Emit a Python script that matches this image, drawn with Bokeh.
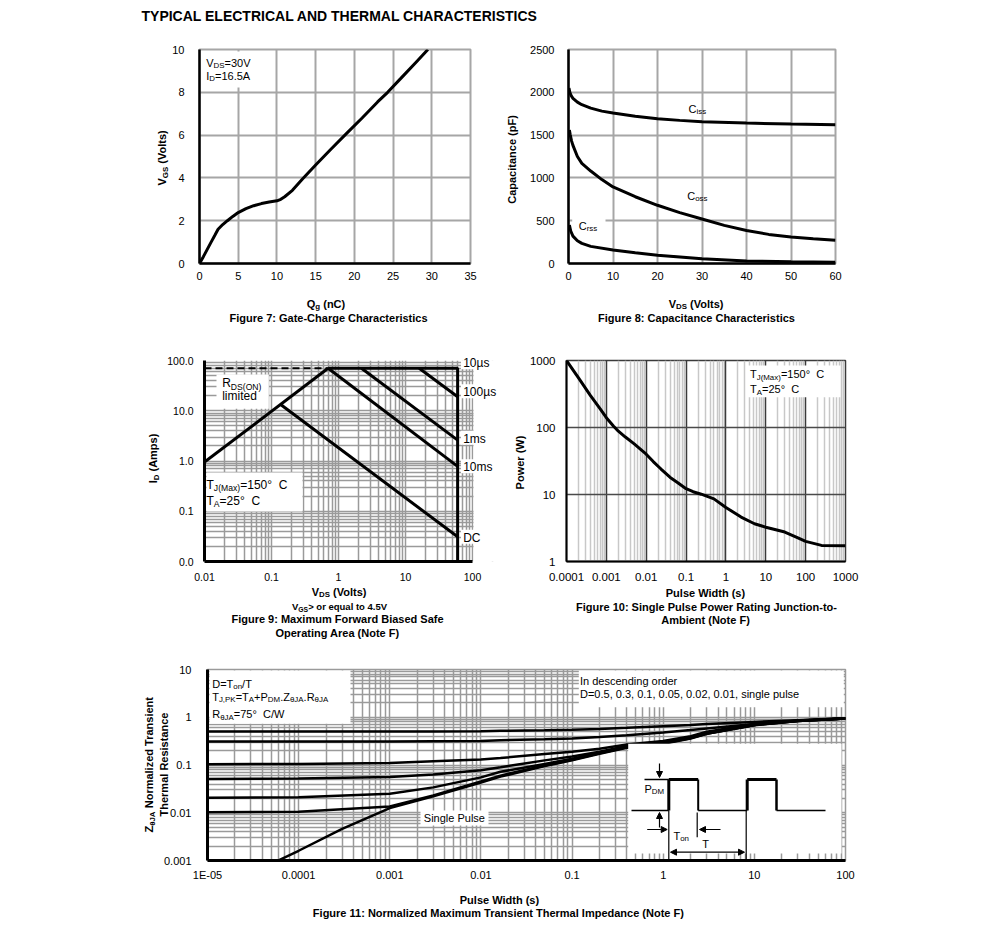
import math
from bokeh.plotting import figure
from bokeh.models import (BoxAnnotation, Arrow, NormalHead, FixedTicker, Range1d, GridBox)
from bokeh.layouts import column, row
from bokeh.core.properties import value
from bokeh.embed import file_html
from bokeh.resources import INLINE

FONT = "Liberation Sans"

# ---------------- data ----------------
# Figure 7: gate charge
qg_nc = [0, 0.5, 1, 1.5, 2, 2.4, 3, 3.6, 4.3, 5, 6, 7, 8, 9, 10, 10.5, 11, 12, 13.3, 15, 17, 19, 21, 23, 24.3, 26, 28, 29.5]
vgs_v = [0, 0.32, 0.66, 1.0, 1.33, 1.6, 1.82, 2.0, 2.2, 2.38, 2.56, 2.7, 2.8, 2.87, 2.93, 3.0, 3.12, 3.42, 3.95, 4.6, 5.35, 6.08, 6.8, 7.55, 8.0, 8.65, 9.42, 10.0]
fig7_xticks = [0, 5, 10, 15, 20, 25, 30, 35]
fig7_yticks = [0, 2, 4, 6, 8, 10]

# Figure 8: capacitance
ciss_vds = [0.1, 0.3, 0.6, 1, 2, 3, 5, 7.5, 10, 15, 20, 25, 30, 40, 50, 60]
ciss_pf = [2050, 2000, 1960, 1930, 1885, 1855, 1815, 1780, 1757, 1720, 1692, 1672, 1656, 1640, 1630, 1622]
coss_vds = [0.2, 0.4, 0.7, 1, 2, 3, 5, 7.5, 10, 15, 20, 25, 30, 35, 40, 45, 50, 55, 60]
coss_pf = [1560, 1500, 1430, 1380, 1250, 1170, 1080, 980, 895, 780, 680, 595, 520, 445, 385, 340, 310, 290, 272]
crss_vds = [0.2, 0.5, 1, 2, 3, 5, 10, 15, 20, 30, 40, 50, 60]
crss_pf = [450, 380, 320, 265, 235, 200, 158, 125, 97, 55, 30, 20, 15]
fig8_xticks = [0, 10, 20, 30, 40, 50, 60]
fig8_yticks = [0, 500, 1000, 1500, 2000, 2500]

# Figure 9: safe operating area
rds_v = [0.01, 0.7]
rds_i = [0.95, 70]
lim_v = [0.01, 0.7]
lim_i = [70, 70]
t10us_v = [0.7, 60, 60]
t10us_i = [70, 70, 0.01]
t100us_v = [16, 60]
t100us_i = [70, 19]
t1ms_v = [2.2, 60]
t1ms_i = [70, 2.6]
t10ms_v = [0.7, 60]
t10ms_i = [70, 0.78]
dc_v = [0.14, 60]
dc_i = [13, 0.031]
fig9_xticks = [0.01, 0.1, 1, 10, 100]
fig9_xlabels = ["0.01", "0.1", "1", "10", "100"]
fig9_yticks = [0.01, 0.1, 1, 10, 100]
fig9_ylabels = ["0.0", "0.1", "1.0", "10.0", "100.0"]
fig9_soa_labels = ["10\u00b5s", "100\u00b5s", "1ms", "10ms", "DC"]

# Figure 10: single pulse power
pw_s = [1e-4, 2e-4, 4e-4, 7e-4, 1e-3, 1.5e-3, 2e-3, 3e-3, 5e-3, 7e-3, 1e-2, 1.5e-2, 2.35e-2, 4e-2, 6.2e-2,
        0.1, 0.15, 0.24, 0.5, 1, 2.4, 5.2, 10, 30, 60, 100, 250, 1000]
power_w = [1000, 550, 300, 190, 140, 105, 88, 72, 57, 48, 40, 31, 24, 18, 15,
           12.2, 11, 10.1, 8.6, 6.4, 4.6, 3.66, 3.25, 2.75, 2.3, 2.0, 1.74, 1.72]
fig10_xticks = [1e-4, 1e-3, 1e-2, 1e-1, 1, 10, 100, 1000]
fig10_xlabels = ["0.0001", "0.001", "0.01", "0.1", "1", "10", "100", "1000"]
fig10_yticks = [1, 10, 100, 1000]
fig10_ylabels = ["1", "10", "100", "1000"]

# Figure 11: transient thermal impedance
zt_s = [1e-5, 1e-4, 1e-3, 3e-3, 0.01, 0.0164, 0.05, 0.1, 0.2, 0.4, 1, 2, 3, 10, 30, 100]
z_d05 = [0.5, 0.5, 0.5, 0.505, 0.51, 0.52, 0.535, 0.55, 0.57, 0.6, 0.65, 0.69, 0.72, 0.8, 0.87, 0.95]
z_d03 = [0.31, 0.31, 0.31, 0.315, 0.32, 0.33, 0.345, 0.36, 0.385, 0.42, 0.48, 0.54, 0.58, 0.72, 0.84, 0.94]
z_d01 = [0.104, 0.105, 0.11, 0.12, 0.13, 0.14, 0.17, 0.19, 0.22, 0.27, 0.32, 0.4, 0.5, 0.72, 0.85, 0.95]
z_d005 = [0.051, 0.052, 0.056, 0.063, 0.078, 0.09, 0.125, 0.15, 0.19, 0.25, 0.3, 0.38, 0.47, 0.7, 0.84, 0.94]
z_d002 = [0.0206, 0.021, 0.025, 0.034, 0.055, 0.072, 0.105, 0.135, 0.18, 0.24, 0.29, 0.37, 0.455, 0.69, 0.83, 0.94]
z_d001 = [0.0102, 0.0105, 0.0135, 0.023, 0.045, 0.06, 0.098, 0.128, 0.175, 0.235, 0.285, 0.365, 0.45, 0.69, 0.83, 0.94]
single_s = [5e-5, 1e-4, 3e-4, 1e-3, 3e-3, 0.01, 0.0164, 0.05, 0.1, 0.2, 0.4, 1, 2, 3, 10, 30, 100]
z_single = [0.00085, 0.0016, 0.0046, 0.0125, 0.022, 0.043, 0.057, 0.095, 0.125, 0.172, 0.23, 0.28, 0.36, 0.45, 0.68, 0.83, 0.94]
fig11_xticks = [1e-5, 1e-4, 1e-3, 1e-2, 1e-1, 1, 10, 100]
fig11_xlabels = ["1E-05", "0.0001", "0.001", "0.01", "0.1", "1", "10", "100"]
fig11_yticks = [0.001, 0.01, 0.1, 1, 10]
fig11_ylabels = ["0.001", "0.01", "0.1", "1", "10"]

# ---------------- text metrics (Arial / Liberation Sans, per 1000 em) ----------------
REG = {' ': 278, '\u00a0': 278, '(': 333, ')': 333, '*': 389, '+': 584, ',': 278, '-': 333, '.': 278,
       '/': 278, ':': 278, '=': 584, '>': 584, '\u00b0': 400, '\u03b8': 556, '\u00b5': 576}
for c in "0123456789":
    REG[c] = 556
REG.update(dict(zip("ABCDEFGHIJKLMNOPQRSTUVWXYZ",
                    [667, 667, 722, 722, 667, 611, 778, 722, 278, 500, 667, 556, 833, 722, 778, 667, 778, 722, 667, 611, 722, 667, 944, 667, 667, 611])))
REG.update(dict(zip("abcdefghijklmnopqrstuvwxyz",
                    [556, 556, 500, 556, 556, 278, 556, 556, 222, 222, 500, 222, 833, 556, 556, 556, 556, 333, 500, 278, 556, 500, 722, 500, 500, 500])))
BOLD = dict(REG)
BOLD.update({':': 333})
BOLD.update(dict(zip("ABCDEFGHIJKLMNOPQRSTUVWXYZ",
                     [722, 722, 722, 722, 667, 611, 778, 722, 278, 556, 722, 611, 833, 722, 778, 667, 778, 722, 667, 611, 722, 667, 944, 667, 667, 611])))
BOLD.update(dict(zip("abcdefghijklmnopqrstuvwxyz",
                     [556, 611, 556, 611, 556, 333, 611, 611, 278, 278, 556, 278, 889, 611, 611, 611, 611, 389, 556, 333, 611, 556, 778, 556, 556, 500])))


def tw(s, bold):
    tab = BOLD if bold else REG
    return sum(tab.get(c, 556) for c in s) / 1000.0


PAGE_W, PAGE_H = 983, 922
HALF_PI = math.pi / 2

# transparent overlay that carries all free text (page pixel coordinates)
ov = figure(width=PAGE_W, height=PAGE_H, x_range=Range1d(0, PAGE_W), y_range=Range1d(0, PAGE_H),
            x_axis_location=None, y_axis_location=None, output_backend="svg",
            toolbar_location=None, title=None, min_border=0)
ov.min_border_left = ov.min_border_right = ov.min_border_top = ov.min_border_bottom = 0
ov.background_fill_alpha = 0
ov.border_fill_alpha = 0
ov.outline_line_color = None
ov.grid.visible = False


def keep_edges(t):
    # leading/trailing blanks would be collapsed in SVG text
    n_lead = len(t) - len(t.lstrip(" "))
    n_trail = len(t) - len(t.rstrip(" "))
    core = t.strip(" ")
    return "\u00a0" * n_lead + core + "\u00a0" * n_trail


def rich(X, Y, parts, size=11, bold=False, align="left", angle=0.0, sub_scale=0.72):
    x, y = X, PAGE_H - Y
    sub_size = size * sub_scale
    ws = [tw(t, bold) * (sub_size if s else size) for t, s in parts]
    total = sum(ws)
    pos = {"left": 0.0, "center": -total / 2.0, "right": -total}[align]
    for (t, s), w in zip(parts, ws):
        fs = sub_size if s else size
        drop = size * 0.3 if s else 0.0
        if angle == 0:
            lx, ly = x + pos, y - drop
        else:
            lx, ly = x + drop, y + pos
        ov.text(x=[lx], y=[ly], text=[keep_edges(t)], text_font=value(FONT),
                text_font_size=value(f"{fs:.1f}px"),
                text_font_style="bold" if bold else "normal", text_color="black",
                text_align="left", text_baseline="middle", angle=angle)
        pos += w


def wbox(p, l, r, b, t, level="underlay"):
    p.add_layout(BoxAnnotation(left=l, right=r, bottom=b, top=t,
                               left_units="screen", right_units="screen",
                               bottom_units="screen", top_units="screen",
                               fill_color="white", fill_alpha=1.0, line_color=None, level=level))


def seg(p, x0, y0, x1, y1, w=1.5, start=False, end=False):
    def head():
        return NormalHead(size=6, fill_color="black", line_color="black", line_width=1)
    p.add_layout(Arrow(x_start=x0, y_start=y0, x_end=x1, y_end=y1,
                       start_units="screen", end_units="screen",
                       line_color="black", line_width=w,
                       start=head() if start else None, end=head() if end else None))


def make_fig(w, h, l, r, t, b, xr, yr, xt="linear", yt="linear", tick_size="11px"):
    p = figure(width=w, height=h, x_range=xr, y_range=yr, x_axis_type=xt, y_axis_type=yt,
               output_backend="svg", toolbar_location=None, title=None,
               min_border_left=l, min_border_right=r, min_border_top=t, min_border_bottom=b)
    p.background_fill_color = "white"
    p.border_fill_color = "white"
    for ax in (p.xaxis[0], p.yaxis[0]):
        ax.major_tick_line_color = None
        ax.minor_tick_line_color = None
        ax.major_label_text_font = FONT
        ax.major_label_text_font_size = tick_size
        ax.major_label_text_color = "black"
        ax.axis_line_color = "black"
    return p


def log_minor(k0, k1):
    return [m * 10.0 ** k for k in range(k0, k1) for m in range(2, 10)]


# ================= Figure 7 =================
p7 = make_fig(500, 330, 199, 30, 49, 67, Range1d(0, 35), Range1d(0, 10))
p7.xaxis.ticker = FixedTicker(ticks=fig7_xticks)
p7.yaxis.ticker = FixedTicker(ticks=fig7_yticks)
for g in (p7.xgrid, p7.ygrid):
    g.grid_line_color = "#a6a6a6"
    g.grid_line_width = 2
p7.outline_line_color = "#a6a6a6"
p7.outline_line_width = 2
p7.xaxis.axis_line_width = 2.5
p7.yaxis.axis_line_width = 2.5
p7.xaxis.major_label_standoff = 2
p7.yaxis.major_label_standoff = 9
wbox(p7, 2, 54, 176, 212)
p7.line(qg_nc, vgs_v, line_color="black", line_width=3)

rich(141, 15, [("TYPICAL ELECTRICAL AND THERMAL CHARACTERISTICS", False)], size=14, bold=True)
rich(205.7, 62, [("V", False), ("DS", True), ("=30V", False)], 11)
rich(205.7, 75, [("I", False), ("D", True), ("=16.5A", False)], 11)
rich(161.7, 157, [("V", False), ("GS", True), (" (Volts)", False)], 11, True, "center", HALF_PI)
rich(325.5, 303, [("Q", False), ("g", True), (" (nC)", False)], 11, True, "center")
rich(328, 317, [("Figure 7: Gate-Charge Characteristics", False)], 11, True, "center")

# ================= Figure 8 =================
p8 = make_fig(483, 330, 68, 148, 49, 67, Range1d(0, 60), Range1d(0, 2500))
p8.xaxis.ticker = FixedTicker(ticks=fig8_xticks)
p8.yaxis.ticker = FixedTicker(ticks=fig8_yticks)
for g in (p8.xgrid, p8.ygrid):
    g.grid_line_color = "#a6a6a6"
    g.grid_line_width = 2
p8.outline_line_color = "#a6a6a6"
p8.outline_line_width = 2
p8.xaxis.axis_line_width = 2.5
p8.yaxis.axis_line_width = 2.5
p8.xaxis.major_label_standoff = 2
p8.yaxis.major_label_standoff = 8
wbox(p8, 3.7, 37, 31, 47)
p8.line(ciss_vds, ciss_pf, line_color="black", line_width=3)
p8.line(coss_vds, coss_pf, line_color="black", line_width=3)
p8.line(crss_vds, crss_pf, line_color="black", line_width=3)

rich(688, 108, [("C", False), ("iss", True)], 11)
rich(686.7, 195, [("C", False), ("oss", True)], 11)
rich(578.3, 225, [("C", False), ("rss", True)], 11)
rich(511, 159, [("Capacitance (pF)", False)], 11, True, "center", HALF_PI)
rich(696, 303, [("V", False), ("DS", True), (" (Volts)", False)], 11, True, "center")
rich(696, 317, [("Figure 8: Capacitance Characteristics", False)], 11, True, "center")

# ================= Figure 9 =================
# frame extends 28 px past 100 V so the curve labels can sit across its edge
p9 = make_fig(500, 315, 204, 0, 24, 83, Range1d(0.01, 10 ** (2 + 28 / 67)), Range1d(0.01, 100),
              "log", "log", "10.5px")
p9.xaxis.ticker = FixedTicker(ticks=fig9_xticks, minor_ticks=log_minor(-2, 3))
p9.yaxis.ticker = FixedTicker(ticks=fig9_yticks, minor_ticks=log_minor(-2, 2))
p9.xaxis.major_label_overrides = dict(zip(fig9_xticks, fig9_xlabels))
p9.yaxis.major_label_overrides = dict(zip(fig9_yticks, fig9_ylabels))
p9.xaxis.bounds = (0.01, 100)
for g in (p9.xgrid, p9.ygrid):
    g.grid_line_color = "#9a9a9a"
    g.grid_line_width = 1.5
    g.minor_grid_line_color = "#9a9a9a"
    g.minor_grid_line_width = 1.5
p9.outline_line_color = None
p9.xaxis.axis_line_width = 3
p9.yaxis.axis_line_width = 3
p9.xaxis.major_label_standoff = 5
p9.yaxis.major_label_standoff = 5
p9.add_layout(BoxAnnotation(left=269, left_units="screen", fill_color="white", fill_alpha=1.0,
                            line_color=None, level="underlay"))
wbox(p9, 12, 64.3, 152.7, 187)
wbox(p9, 2, 98, 50, 89)
for sy in (199.3, 170.3, 123.7, 95.3, 24.7):
    wbox(p9, 256.5, 296, sy - 7, sy + 7)
p9.line(lim_v, lim_i, line_color="black", line_width=2, line_dash="7 4")
for xs, ys in ((rds_v, rds_i), (t10us_v, t10us_i), (t100us_v, t100us_i),
               (t1ms_v, t1ms_i), (t10ms_v, t10ms_i), (dc_v, dc_i)):
    p9.line(xs, ys, line_color="black", line_width=3)

for txt, Y in zip(fig9_soa_labels, (362.7, 391.7, 438.3, 466.7, 537.3)):
    rich(462.7, Y, [(txt, False)], 12)
rich(221.7, 382.7, [("R", False), ("DS(ON)", True)], 12)
rich(221.7, 395, [("limited", False)], 12)
rich(206, 484, [("T", False), ("J(Max)", True), ("=150\u00b0\u00a0 C", False)], 12)
rich(206, 500, [("T", False), ("A", True), ("=25\u00b0\u00a0 C", False)], 12)
rich(152.7, 458, [("I", False), ("D", True), (" (Amps)", False)], 11, True, "center", HALF_PI)
rich(339, 591, [("V", False), ("DS", True), (" (Volts)", False)], 11, True, "center")
rich(339, 606, [("V", False), ("GS", True), ("> or equal to 4.5V", False)], 9.5, True, "center")
rich(337, 618, [("Figure 9: Maximum Forward Biased Safe", False)], 11, True, "center")
rich(337, 632, [("Operating Area (Note F)", False)], 11, True, "center")

# ================= Figure 10 =================
p10 = make_fig(483, 315, 66, 138, 30, 84, Range1d(1e-4, 1000), Range1d(1, 1000), "log", "log", "11.5px")
p10.xaxis.ticker = FixedTicker(ticks=fig10_xticks, minor_ticks=log_minor(-4, 3))
p10.yaxis.ticker = FixedTicker(ticks=fig10_yticks)
p10.xaxis.major_label_overrides = dict(zip(fig10_xticks, fig10_xlabels))
p10.yaxis.major_label_overrides = dict(zip(fig10_yticks, fig10_ylabels))
p10.xgrid.grid_line_color = "#3a3a3a"
p10.xgrid.grid_line_width = 1.5
p10.xgrid.minor_grid_line_color = "#c8c8c8"
p10.xgrid.minor_grid_line_width = 1.5
p10.ygrid.grid_line_color = "#4a4a4a"
p10.ygrid.grid_line_width = 1.5
p10.ygrid.minor_grid_line_color = None
p10.outline_line_color = "#3a3a3a"
p10.outline_line_width = 1.5
p10.xaxis.axis_line_width = 2
p10.yaxis.axis_line_width = 2
p10.xaxis.major_label_standoff = 5
p10.yaxis.major_label_standoff = 5
wbox(p10, 181.3, 274, 164.3, 196)
p10.line(pw_s, power_w, line_color="black", line_width=3)

rich(749.5, 373.3, [("T", False), ("J(Max)", True), ("=150\u00b0\u00a0 C", False)], 11)
rich(749.5, 388.3, [("T", False), ("A", True), ("=25\u00b0\u00a0 C", False)], 11)
rich(519, 462, [("Power (W)", False)], 11, True, "center", HALF_PI)
rich(705, 592, [("Pulse Width (s)", False)], 11, True, "center")
rich(706, 606, [("Figure 10: Single Pulse Power Rating Junction-to-", False)], 11, True, "center")
rich(705, 619, [("Ambient (Note F)", False)], 11, True, "center")

# ================= Figure 11 =================
p11 = make_fig(983, 277, 207, 138, 24, 62, Range1d(1e-5, 100), Range1d(0.001, 10), "log", "log", "11px")
p11.xaxis.ticker = FixedTicker(ticks=fig11_xticks, minor_ticks=log_minor(-5, 2))
p11.yaxis.ticker = FixedTicker(ticks=fig11_yticks, minor_ticks=log_minor(-3, 1))
p11.xaxis.major_label_overrides = dict(zip(fig11_xticks, fig11_xlabels))
p11.yaxis.major_label_overrides = dict(zip(fig11_yticks, fig11_ylabels))
for g in (p11.xgrid, p11.ygrid):
    g.grid_line_color = "#9a9a9a"
    g.grid_line_width = 1.5
    g.minor_grid_line_color = "#9a9a9a"
    g.minor_grid_line_width = 1.5
p11.outline_line_color = "#9a9a9a"
p11.outline_line_width = 1.5
p11.xaxis.axis_line_width = 3
p11.yaxis.axis_line_width = 3
p11.xaxis.major_label_standoff = 2
p11.yaxis.major_label_standoff = 10
wbox(p11, 2, 143, 136.7, 190)
wbox(p11, 371.3, 636.3, 153.3, 190)
wbox(p11, 213, 281, 35, 50)
for zs in (z_d05, z_d03, z_d01, z_d005, z_d002, z_d001):
    p11.line(zt_s, zs, line_color="black", line_width=2.5)
p11.line(single_s, z_single, line_color="black", line_width=2.5)
# inset (duty-cycle sketch), frame-relative pixels
wbox(p11, 420.7, 634, 7, 116.7, level="annotation")
seg(p11, 424, 50, 461.3, 50)
seg(p11, 437, 81, 461.3, 81)
seg(p11, 461.3, 50, 461.3, 81, 3)
seg(p11, 461.3, 81, 490.7, 81, 3)
seg(p11, 490.7, 81, 490.7, 50, 2)
seg(p11, 490.7, 50, 539.7, 50)
seg(p11, 539.7, 50, 539.7, 81, 3)
seg(p11, 539.7, 81, 569, 81, 3)
seg(p11, 569, 81, 569, 50, 2.5)
seg(p11, 569, 50, 618, 50)
seg(p11, 452, 97, 452, 83, 1.2, end=True)
seg(p11, 452, 33, 452, 48, 1.2, end=True)
seg(p11, 439.7, 31, 459.7, 31, 1.2, end=True)
seg(p11, 513, 31, 492, 31, 1.2, end=True)
seg(p11, 461.3, 50, 461.3, 0, 1.2)
seg(p11, 489.7, 48, 489.7, 23.3, 1.2)
seg(p11, 538.7, 50, 538.7, 0, 1.2)
seg(p11, 463, 8.3, 537, 8.3, 1.2, start=True, end=True)

rich(644, 788, [("P", False), ("DM", True)], 11)
rich(673, 835, [("T", False), ("on", True)], 11)
rich(705, 843, [("T", False)], 11, False, "center")
rich(211.7, 683, [("D=T", False), ("on", True), ("/T", False)], 11)
rich(211.7, 696, [("T", False), ("J,PK", True), ("=T", False), ("A", True), ("+P", False), ("DM", True),
                  (".", False), ("Z", False), ("\u03b8JA", True), (".", False), ("R", False), ("\u03b8JA", True)], 11)
rich(211.7, 713.3, [("R", False), ("\u03b8JA", True), ("=75\u00b0\u00a0 C/W", False)], 11)
rich(579.5, 680, [("In descending order", False)], 11)
rich(579.5, 693.3, [("D=0.5, 0.3, 0.1, 0.05, 0.02, 0.01, single pulse", False)], 11)
rich(423.3, 817.3, [("Single Pulse", False)], 11)
rich(148.3, 764, [("Z", False), ("\u03b8JA", True), (" Normalized Transient", False)], 11, True, "center", HALF_PI)
rich(163.3, 764, [("Thermal Resistance", False)], 11, True, "center", HALF_PI)
rich(499, 899, [("Pulse Width (s)", False)], 11, True, "center")
rich(498.5, 912, [("Figure 11: Normalized Maximum Transient Thermal Impedance (Note F)", False)], 11, True, "center")

charts = column(row(p7, p8), row(p9, p10), p11)
layout = GridBox(children=[(charts, 0, 0), (ov, 0, 0)])
open("out.html", "w").write(file_html(layout, INLINE))
